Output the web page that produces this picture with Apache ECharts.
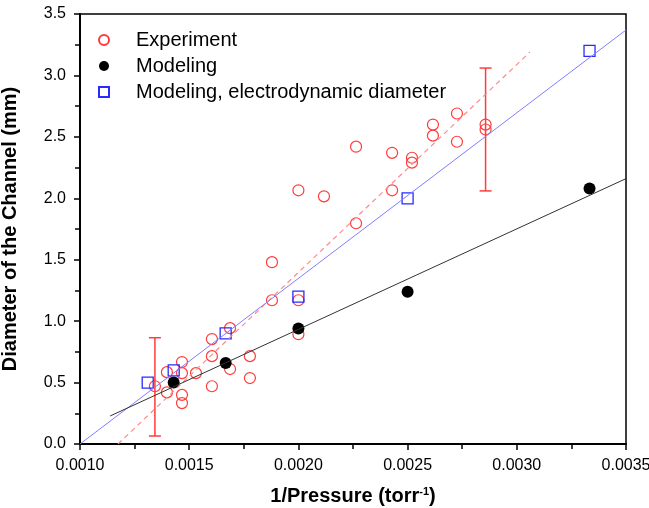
<!DOCTYPE html>
<html><head><meta charset="utf-8">
<script src="https://cdn.jsdelivr.net/npm/echarts@6/dist/echarts.min.js"></script>
<style>html,body{margin:0;padding:0;background:#fff}#c{width:649px;height:508px}</style>
</head><body><div id="c"></div>
<script>
// Experiment (red hollow circles)
const expX = [0.001343,0.001398,0.001398,0.001467,0.001467,0.001467,0.001467,0.001531,0.001604,0.001604,0.001604,0.001687,0.001687,0.001778,0.001778,
  0.001879,0.001879,0.002,0.002,0.002,0.002117,0.002264,0.002264,0.002429,0.002429,0.00252,0.00252,0.002616,0.002616,0.002726,0.002726,0.002857,0.002857];
const expY = [0.47,0.585,0.42,0.667,0.577,0.40,0.333,0.577,0.854,0.715,0.47,0.943,0.61,0.715,0.537,
  1.48,1.17,2.065,1.17,0.894,2.016,2.42,1.797,2.37,2.065,2.33,2.29,2.60,2.51,2.69,2.46,2.60,2.56];
// Modeling (black dots)
const modX = [0.001429,0.001667,0.002,0.0025,0.003333];
const modY = [0.50,0.66,0.94,1.24,2.08];
// Modeling, electrodynamic diameter (blue squares)
const elX = [0.00131,0.001429,0.001667,0.002,0.0025,0.003333];
const elY = [0.50,0.60,0.90,1.20,2.00,3.20];
// Error bars [x, low, high]
const errX = [0.001343,0.002857];
const errLow = [0.065,2.06];
const errHigh = [0.865,3.06];
// Fit lines (endpoints)
const fitBlackX = [0.001138,0.0035];
const fitBlackY = [0.228,2.16];
const fitBlueX = [0.001,0.0035];
const fitBlueY = [0.0,3.37];
const fitRedX = [0.001174,0.00306];
const fitRedY = [0.0,3.19];

const zip = (a,b)=>a.map((v,i)=>[v,b[i]]);
const RED='#ff3b3b', BLUE='#2a2aff';
const font='Liberation Sans, Arial, sans-serif';
const chart = echarts.init(document.getElementById('c'));
chart.setOption({
  animation:false,
  backgroundColor:'#fff',
  grid:{left:80,right:23,top:14,bottom:64,containLabel:false,outerBoundsMode:'none',
    show:true,borderColor:'#000',borderWidth:1.5,backgroundColor:'transparent'},
  legend:{
    orient:'vertical',left:93,top:25,itemGap:6,itemWidth:10,itemHeight:10,
    data:['Experiment','Modeling','Modeling, electrodynamic diameter'],
    textStyle:{fontFamily:font,fontSize:20,color:'#000',padding:[0,0,0,22]}
  },
  xAxis:{
    type:'value',min:0.001,max:0.0035,interval:0.0005,
    axisLine:{onZero:false,lineStyle:{color:'#000',width:2}},
    axisTick:{inside:false,length:6,lineStyle:{color:'#000',width:1.5}},
    minorTick:{show:true,splitNumber:2,length:5,lineStyle:{color:'#000',width:1.5}},
    splitLine:{show:false},
    axisLabel:{fontFamily:font,fontSize:16,color:'#000',margin:14,formatter:v=>v.toFixed(4)},
    name:'1/Pressure (torr{sup|-1})',nameLocation:'middle',nameGap:42,
    nameTextStyle:{fontFamily:font,fontSize:20,fontWeight:'bold',color:'#000',
      rich:{sup:{fontFamily:font,fontSize:11,fontWeight:'bold',color:'#000',verticalAlign:'top',padding:[0,0,10,0]}}}
  },
  yAxis:{
    type:'value',min:0,max:3.5,interval:0.5,
    axisLine:{onZero:false,lineStyle:{color:'#000',width:2}},
    axisTick:{inside:false,length:6,lineStyle:{color:'#000',width:1.5}},
    minorTick:{show:true,splitNumber:2,length:5,lineStyle:{color:'#000',width:1.5}},
    splitLine:{show:false},
    axisLabel:{fontFamily:font,fontSize:16,color:'#000',margin:14,formatter:v=>v.toFixed(1)},
    name:'Diameter of the Channel (mm)',nameLocation:'middle',nameGap:60,
    nameTextStyle:{fontFamily:font,fontSize:20,fontWeight:'bold',color:'#000'}
  },
  series:[
    {type:'line',data:zip(fitRedX,fitRedY),symbol:'none',silent:true,
      lineStyle:{color:'#ff8a8a',width:1.2,type:[5,4]}},
    {type:'line',data:zip(fitBlueX,fitBlueY),symbol:'none',silent:true,
      lineStyle:{color:'#7f7fff',width:1}},
    {type:'line',data:zip(fitBlackX,fitBlackY),symbol:'none',silent:true,
      lineStyle:{color:'#333',width:1}},
    {type:'custom',silent:true,
      data:errX.map((x,i)=>[x,errLow[i],errHigh[i]]),
      renderItem:(params,api)=>{
        const lo=api.coord([api.value(0),api.value(1)]);
        const hi=api.coord([api.value(0),api.value(2)]);
        const w=6;
        const st={stroke:RED,lineWidth:1.5};
        return {type:'group',children:[
          {type:'line',shape:{x1:lo[0],y1:lo[1],x2:hi[0],y2:hi[1]},style:st},
          {type:'line',shape:{x1:lo[0]-w,y1:lo[1],x2:lo[0]+w,y2:lo[1]},style:st},
          {type:'line',shape:{x1:hi[0]-w,y1:hi[1],x2:hi[0]+w,y2:hi[1]},style:st}
        ]};
      }},
    {name:'Experiment',type:'scatter',data:zip(expX,expY),symbol:'circle',symbolSize:11,
      itemStyle:{color:'rgba(255,255,255,0)',borderColor:RED,borderWidth:1.2,opacity:1}},
    {name:'Modeling',type:'scatter',data:zip(modX,modY),symbol:'circle',symbolSize:12,
      itemStyle:{color:'#000',opacity:1}},
    {name:'Modeling, electrodynamic diameter',type:'scatter',data:zip(elX,elY),symbol:'rect',symbolSize:11,
      itemStyle:{color:'rgba(255,255,255,0)',borderColor:BLUE,borderWidth:1.3,opacity:1}}
  ]
});
</script></body></html>
